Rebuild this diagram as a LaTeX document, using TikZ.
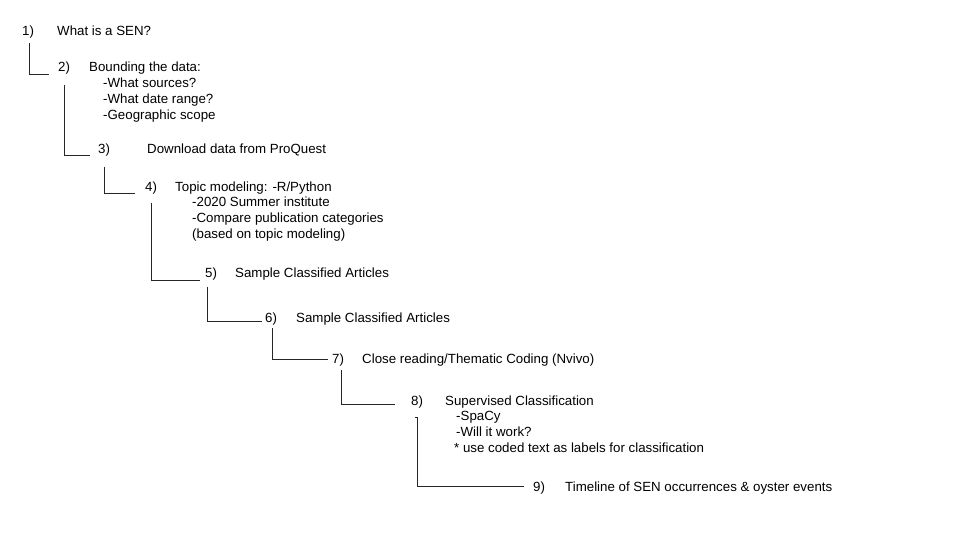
\documentclass[tikz,border=0pt]{standalone}
\usepackage{fontspec}
\setmainfont{Liberation Sans}
\usetikzlibrary{positioning}
\tikzset{
  stepnum/.style={inner sep=0pt,anchor=base west,font=\fontsize{13.3pt}{16pt}\selectfont},
  steptext/.style={stepnum},
  link/.style={draw=black!85,line width=0.8pt}
}

\begin{document}
\begin{tikzpicture}[x=1pt,y=-1pt]
  \useasboundingbox (0,0) rectangle (960,540);
  % step numbers
  \foreach \n/\x/\y in {1/22/36,2/58/72,3/98/154,4/145/191,5/205/277,6/265/322,7/332/363,8/411/405,9/533/491}
    \node[stepnum] (n\n) at (\x,\y) {\n)};
  % step titles
  \node[steptext] (t1) at (57,36) {What is a SEN?};
  \node[steptext] (t2) at (89,72) {Bounding the data:};
  \node[steptext] (t3) at (147,154) {Download data from ProQuest};
  \node[steptext] (t4) at (175,191) {Topic modeling: -R/Python};
  \node[steptext] (t5) at (235,277) {Sample Classified Articles};
  \node[steptext] (t6) at (296,322) {Sample Classified Articles};
  \node[steptext] (t7) at (362,363) {Close reading/Thematic Coding (Nvivo)};
  \node[steptext] (t8) at (445,405) {Supervised Classification};
  \node[steptext] (t9) at (565,491) {Timeline of SEN occurrences \& oyster events};
  % sub points
  \foreach \k/\txt in {1/-What sources?,2/-What date range?,3/-Geographic scope}
    \node[steptext] (s2\k) at (103,72+16*\k) {\txt};
  \foreach \k/\txt in {1/-2020 Summer institute,2/-Compare publication categories,3/(based on topic modeling)}
    \node[steptext] (s4\k) at (192,191+15.7*\k) {\txt};
  \foreach \k/\x/\txt in {1/456/-SpaCy,2/456/-Will it work?,3/454/* use coded text as labels for classification}
    \node[steptext] (s8\k) at (\x,405+15.8*\k) {\txt};
  % elbow links
  \draw[link] ([xshift=1pt,yshift=-7pt]n1.base) |- ([xshift=-9pt,yshift=-2pt]n2.base west);
  \draw[link] ([yshift=-13pt]n2.base) |- ([xshift=-8pt,yshift=-1pt]n3.base west);
  \draw[link] ([yshift=-13pt]n3.base) |- ([xshift=-10pt,yshift=-2pt]n4.base west);
  \draw[link] ([yshift=-12pt]n4.base) |- ([xshift=-5pt,yshift=-3pt]n5.base west);
  \draw[link] ([xshift=-4pt,yshift=-10pt]n5.base) |- ([xshift=-3pt,yshift=1pt]n6.base west);
  \draw[link] ([xshift=1pt,yshift=-6pt]n6.base) |- ([xshift=-4pt,yshift=4pt]n7.base west);
  \draw[link] ([xshift=3pt,yshift=-7pt]n7.base) |- ([xshift=-16pt,yshift=1pt]n8.base west);
  \draw[link] ([xshift=-2pt,yshift=-12pt]n8.base) -- ++(2pt,0) |- ([xshift=-9pt,yshift=5pt]n9.base west);
\end{tikzpicture}
\end{document}
